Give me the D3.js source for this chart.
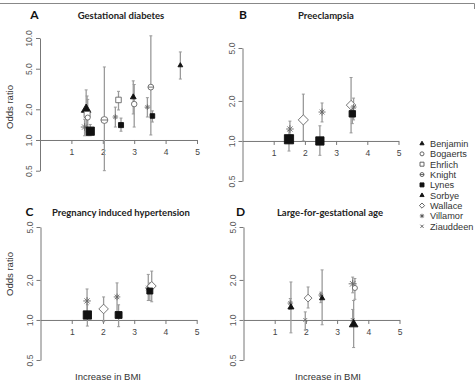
<!DOCTYPE html>
<html>
<head>
<meta charset="utf-8">
<script src="https://cdn.jsdelivr.net/npm/d3@7"></script>
<style>
  body { margin: 0; background: #fff; }
  svg { display: block; }
</style>
</head>
<body>
<svg width="476" height="382"></svg>
<script>
// studies, in legend order
const studies = ["Benjamin", "Bogaerts", "Ehrlich", "Knight", "Lynes", "Sorbye", "Wallace", "Villamor", "Ziauddeen"];
const shapes = ["triangle", "circle", "square", "knight", "fsquare", "triangle", "diamond", "asterisk", "cross"];

const xTicks = [1, 2, 3, 4, 5];
const yTicksA = [0.5, 1, 2, 5, 10];
const yTicksB = [0.5, 1, 2, 5];

// [study, BMI increase, odds ratio, lower CI, upper CI, relative weight]
const gdmData = [
  ["Sorbye", 1.47, 2.0, 1.35, 3.1, 3],
  ["Ehrlich", 1.5, 1.78, 1.2, 2.7, 1.6],
  ["Bogaerts", 1.52, 1.66, 1.1, 2.5, 1.2],
  ["Villamor", 1.42, 1.34, 1.1, 1.6, 2],
  ["Lynes", 1.6, 1.22, 1.1, 1.42, 2.6],
  ["Knight", 2.05, 1.57, 0.5, 5.2, 2],
  ["Villamor", 2.4, 1.68, 1.34, 2.1, 1.2],
  ["Ehrlich", 2.5, 2.47, 1.97, 3.0, 1.4],
  ["Lynes", 2.58, 1.4, 1.22, 1.64, 1.2],
  ["Benjamin", 2.97, 2.64, 1.8, 3.8, 1.4],
  ["Bogaerts", 3.0, 2.25, 1.34, 3.5, 1.4],
  ["Villamor", 3.42, 2.1, 1.68, 2.6, 1.2],
  ["Knight", 3.53, 3.3, 1.12, 10.5, 1.5],
  ["Lynes", 3.58, 1.72, 1.5, 1.93, 1],
  ["Benjamin", 4.47, 5.4, 3.96, 7.3, 1]
];
const peData = [
  ["Villamor", 1.52, 1.23, 1.11, 1.41, 2],
  ["Lynes", 1.49, 1.03, 0.84, 1.2, 3],
  ["Wallace", 1.95, 1.44, 1.0, 2.25, 2.4],
  ["Villamor", 2.55, 1.65, 1.39, 1.93, 1.8],
  ["Lynes", 2.48, 1.0, 0.78, 1.3, 2.6],
  ["Wallace", 3.48, 1.86, 1.15, 3.0, 2.2],
  ["Villamor", 3.56, 1.8, 1.44, 2.1, 1.4],
  ["Lynes", 3.52, 1.6, 1.35, 1.8, 1.8]
];
const pihData = [
  ["Villamor", 1.49, 1.39, 1.1, 1.71, 2],
  ["Lynes", 1.5, 1.09, 0.9, 1.3, 2.6],
  ["Wallace", 2.02, 1.21, 0.97, 1.49, 2.2],
  ["Villamor", 2.45, 1.49, 1.15, 1.9, 1.6],
  ["Lynes", 2.5, 1.09, 0.89, 1.3, 2],
  ["Villamor", 3.45, 1.74, 1.4, 2.2, 1.6],
  ["Wallace", 3.56, 1.8, 1.37, 2.33, 2],
  ["Lynes", 3.5, 1.65, 1.4, 1.9, 1.6]
];
const lgaData = [
  ["Villamor", 1.5, 1.34, 1.2, 1.45, 1.2],
  ["Sorbye", 1.52, 1.25, 0.8, 1.93, 1.5],
  ["Ziauddeen", 1.98, 1.0, 0.84, 1.15, 1],
  ["Wallace", 2.07, 1.46, 1.23, 1.77, 1.6],
  ["Villamor", 2.48, 1.54, 1.35, 1.62, 1],
  ["Sorbye", 2.52, 1.46, 0.92, 2.38, 1.2],
  ["Villamor", 3.5, 1.87, 1.6, 2.1, 2.2],
  ["Bogaerts", 3.57, 1.74, 1.43, 2.05, 1.2],
  ["Ziauddeen", 3.5, 1.0, 0.9, 1.2, 1],
  ["Sorbye", 3.53, 0.93, 0.62, 1.4, 2.6]
];

const svg = d3.select("svg");
const axisColor = "#777";
const barColor = "#9a9a9a";
const openColor = "#777";

// top frame line
svg.append("path")
  .attr("d", "M0,3.5H474.5V9")
  .attr("fill", "none").attr("stroke", "#888").attr("stroke-width", 1);

const sizeScale = d3.scaleLinear().domain([1, 3]).range([2.3, 4.6]);

function markerPath(shape, r) {
  const p = d3.path();
  if (shape === "triangle") {
    p.moveTo(0, -r * 1.15); p.lineTo(r * 1.05, r * 0.65); p.lineTo(-r * 1.05, r * 0.65); p.closePath();
  } else if (shape === "square" || shape === "fsquare") {
    p.rect(-r, -r, 2 * r, 2 * r);
  } else if (shape === "circle" || shape === "knight") {
    p.arc(0, 0, r, 0, 2 * Math.PI);
    if (shape === "knight") { p.moveTo(-r, 0); p.lineTo(r, 0); }
  } else if (shape === "diamond") {
    p.moveTo(0, -r * 1.3); p.lineTo(r * 1.3, 0); p.lineTo(0, r * 1.3); p.lineTo(-r * 1.3, 0); p.closePath();
  } else if (shape === "asterisk") {
    const d = r * 0.75;
    p.moveTo(-r * 1.1, 0); p.lineTo(r * 1.1, 0);
    p.moveTo(0, -r * 1.1); p.lineTo(0, r * 1.1);
    p.moveTo(-d, -d); p.lineTo(d, d);
    p.moveTo(-d, d); p.lineTo(d, -d);
  } else if (shape === "cross") {
    const d = r * 0.8;
    p.moveTo(-d, -d); p.lineTo(d, d);
    p.moveTo(-d, d); p.lineTo(d, -d);
  }
  return p.toString();
}

function styleMarker(sel, shape) {
  const filled = shape === "triangle" || shape === "fsquare";
  const lineOnly = shape === "asterisk" || shape === "cross";
  sel.attr("fill", filled ? "#111" : (lineOnly ? "none" : "#fff"))
    .attr("stroke", filled ? "#111" : "#666")
    .attr("stroke-width", lineOnly ? 0.9 : 0.9);
}

function drawPanel(cfg) {
  const g = svg.append("g");
  const x = d3.scaleLinear().domain([0, 5]).range(cfg.xRange);
  const y = d3.scaleLog().domain([cfg.yTicks[0], cfg.yTicks[cfg.yTicks.length - 1]]).range(cfg.yRange);

  // y axis
  const ya = g.append("g")
    .attr("transform", "translate(" + x(0) + ",0)")
    .call(d3.axisLeft(y).tickValues(cfg.yTicks).tickFormat(d3.format(".1f")).tickSize(4).tickSizeOuter(0));
  ya.select(".domain").attr("stroke", axisColor);
  ya.selectAll(".tick line").attr("stroke", axisColor);
  ya.selectAll(".tick text")
    .attr("transform", "rotate(-90)")
    .attr("x", 0).attr("y", -8).attr("dy", 0)
    .attr("text-anchor", "middle")
    .attr("fill", "#555")
    .style("font", "8.5px 'Liberation Sans', Arial, sans-serif");

  // x axis at OR = 1
  const xa = g.append("g")
    .attr("transform", "translate(0," + y(1) + ")")
    .call(d3.axisBottom(x).tickValues(xTicks).tickFormat(d3.format("d")).tickSize(4).tickSizeOuter(0).tickPadding(5));
  xa.select(".domain").attr("stroke", axisColor);
  xa.selectAll(".tick line").attr("stroke", axisColor);
  xa.selectAll(".tick text")
    .attr("fill", "#444")
    .style("font", "8.5px 'Liberation Sans', Arial, sans-serif");

  // titles
  g.append("text").attr("x", cfg.letterX).attr("y", cfg.titleY)
    .attr("text-anchor", "middle")
    .style("font", "bold 12px Lato, sans-serif").attr("fill", "#111")
    .text(cfg.letter);
  g.append("text").attr("x", cfg.titleX).attr("y", cfg.titleY)
    .attr("text-anchor", "middle")
    .style("font", "bold 9.5px Lato, sans-serif").attr("fill", "#222")
    .text(cfg.title);

  // error bars
  const bars = g.selectAll(".ci").data(cfg.data).enter().append("g").attr("class", "ci");
  bars.append("line")
    .attr("x1", d => x(d[1])).attr("x2", d => x(d[1]))
    .attr("y1", d => y(d[3])).attr("y2", d => y(d[4]))
    .attr("stroke", barColor).attr("stroke-width", 1.3);
  [3, 4].forEach(k => {
    bars.append("line")
      .attr("x1", d => x(d[1]) - 1.5).attr("x2", d => x(d[1]) + 1.5)
      .attr("y1", d => y(d[k])).attr("y2", d => y(d[k]))
      .attr("stroke", barColor).attr("stroke-width", 1);
  });

  // point markers
  cfg.data.forEach(d => {
    const shape = shapes[studies.indexOf(d[0])];
    g.append("path")
      .attr("transform", "translate(" + x(d[1]) + "," + y(d[2]) + ")")
      .attr("d", markerPath(shape, sizeScale(d[5])))
      .call(styleMarker, shape);
  });
}

drawPanel({data: gdmData, yTicks: yTicksA, xRange: [40, 197], yRange: [170.7, 38],
  letter: "A", letterX: 34.5, title: "Gestational diabetes", titleX: 121, titleY: 19});
drawPanel({data: peData, yTicks: yTicksB, xRange: [242.5, 398.5], yRange: [181, 48],
  letter: "B", letterX: 243, title: "Preeclampsia", titleX: 326, titleY: 19});
drawPanel({data: pihData, yTicks: yTicksB, xRange: [40.5, 196.7], yRange: [360, 227],
  letter: "C", letterX: 29.5, title: "Pregnancy induced hypertension", titleX: 121, titleY: 216});
drawPanel({data: lgaData, yTicks: yTicksB, xRange: [243.5, 399.5], yRange: [360, 227],
  letter: "D", letterX: 240.5, title: "Large-for-gestational age", titleX: 330, titleY: 216});

// axis titles
[[107], [274]].forEach(d => {
  svg.append("text")
    .attr("transform", "translate(13," + d[0] + ") rotate(-90)")
    .attr("text-anchor", "middle")
    .style("font", "9.5px 'Liberation Sans', Arial, sans-serif").attr("fill", "#333")
    .text("Odds ratio");
});
[[108], [328]].forEach(d => {
  svg.append("text")
    .attr("x", d[0]).attr("y", 380)
    .attr("text-anchor", "middle")
    .style("font", "9.5px 'Liberation Sans', Arial, sans-serif").attr("fill", "#333")
    .text("Increase in BMI");
});

// legend
const legend = svg.append("g").attr("transform", "translate(422,143.5)");
studies.forEach((s, i) => {
  const row = legend.append("g").attr("transform", "translate(0," + i * 10.35 + ")");
  const shape = shapes[i];
  row.append("path")
    .attr("d", markerPath(shape, 2))
    .call(styleMarker, shape)
    .attr("stroke", shape === "triangle" || shape === "fsquare" ? "#111" : "#555");
  row.append("text").attr("x", 8).attr("y", 3.3)
    .style("font", "9.2px 'Liberation Sans', Arial, sans-serif").attr("fill", "#333")
    .text(s);
});
</script>
</body>
</html>
